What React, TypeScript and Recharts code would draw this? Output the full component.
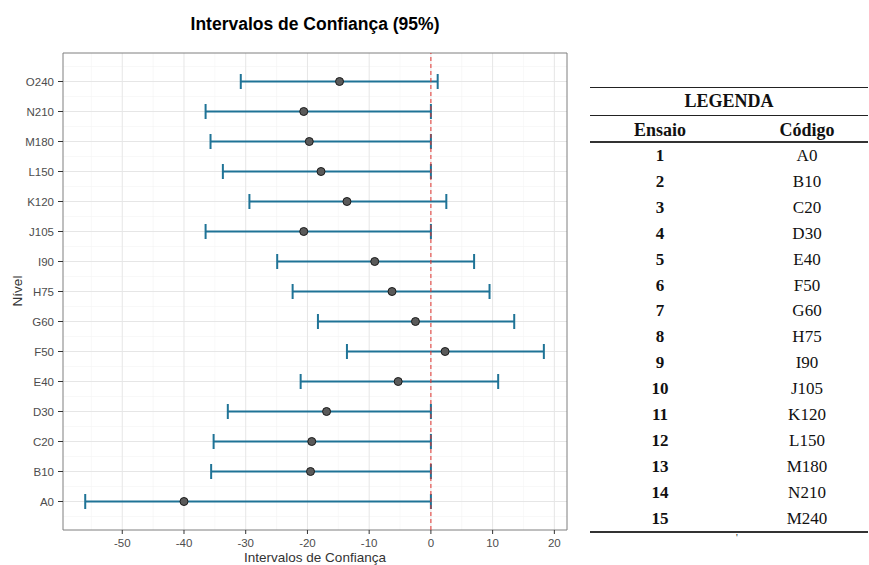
import React from "react";
import {
  ScatterChart,
  Scatter,
  XAxis,
  YAxis,
  CartesianGrid,
  ErrorBar,
  ReferenceLine,
  ReferenceArea,
} from "recharts";

const niveis = ["A0", "B10", "C20", "D30", "E40", "F50", "G60", "H75", "I90", "J105", "K120", "L150", "M180", "N210", "O240"];
const estimativas = [-40.0, -19.5, -19.3, -16.9, -5.3, 2.3, -2.5, -6.3, -9.1, -20.6, -13.6, -17.8, -19.7, -20.6, -14.8];
const limInf = [-56.0, -35.6, -35.2, -32.9, -21.1, -13.6, -18.3, -22.4, -24.9, -36.5, -29.4, -33.7, -35.7, -36.5, -30.8];
const limSup = [0, 0, 0, 0, 10.9, 18.3, 13.5, 9.5, 7.0, 0, 2.5, 0, 0, 0, 1.1];

const xTicks = [-50, -40, -30, -20, -10, 0, 10, 20];
const xMinor = [-55, -45, -35, -25, -15, -5, 5, 15];
const yTicks = [0, 1, 2, 3, 4, 5, 6, 7, 8, 9, 10, 11, 12, 13, 14];
const yMinor = [-0.5, 0.5, 1.5, 2.5, 3.5, 4.5, 5.5, 6.5, 7.5, 8.5, 9.5, 10.5, 11.5, 12.5, 13.5, 14.5];

const ensaios = [1, 2, 3, 4, 5, 6, 7, 8, 9, 10, 11, 12, 13, 14, 15];
const codigos = ["A0", "B10", "C20", "D30", "E40", "F50", "G60", "H75", "I90", "J105", "K120", "L150", "M180", "N210", "M240"];

const X_DOMAIN: [number, number] = [-59.6, 22.05];
const Y_DOMAIN: [number, number] = [-0.95, 14.95];
const BAR = "#1f7396";

const data = niveis.map((n, i) => ({
  nivel: n,
  y: i,
  x: estimativas[i],
  err: [estimativas[i] - limInf[i], limSup[i] - estimativas[i]],
}));

const Ponto = (props: any) => (
  <circle cx={props.cx} cy={props.cy} r={4} fill="#5a5a5a" stroke="#1a1a1a" strokeWidth={1} />
);

const serif = "'Liberation Serif', 'Times New Roman', serif";

function Legenda() {
  return (
    <div style={{ position: "absolute", left: 590, top: 0, width: 278, fontFamily: serif, color: "#111", lineHeight: "20px" }}>
      <div style={{ position: "absolute", top: 87, left: 0, width: 278, borderTop: "1.5px solid #222" }} />
      <div style={{ position: "absolute", top: 91, left: 0, width: 278, textAlign: "center", fontWeight: "bold", fontSize: 18 }}>
        LEGENDA
      </div>
      <div style={{ position: "absolute", top: 115, left: 0, width: 278, borderTop: "1px solid #222" }} />
      <div style={{ position: "absolute", top: 120, left: 20, width: 100, textAlign: "center", fontWeight: "bold", fontSize: 18 }}>
        Ensaio
      </div>
      <div style={{ position: "absolute", top: 120, left: 167, width: 100, textAlign: "center", fontWeight: "bold", fontSize: 18 }}>
        Código
      </div>
      <div style={{ position: "absolute", top: 141, left: 0, width: 278, borderTop: "2px solid #333" }} />
      {ensaios.map((e, i) => (
        <React.Fragment key={e}>
          <div style={{ position: "absolute", top: 146 + i * 25.9, left: 20, width: 100, textAlign: "center", fontWeight: "bold", fontSize: 17 }}>
            {e}
          </div>
          <div style={{ position: "absolute", top: 146 + i * 25.9, left: 167, width: 100, textAlign: "center", fontSize: 17 }}>
            {codigos[i]}
          </div>
        </React.Fragment>
      ))}
      <div style={{ position: "absolute", top: 531, left: 0, width: 278, borderTop: "2px solid #333" }} />
      <div style={{ position: "absolute", top: 528, left: 146, fontSize: 10 }}>'</div>
    </div>
  );
}

export default function App() {
  return (
    <div
      style={{
        position: "fixed",
        left: 0,
        top: 0,
        width: 869,
        height: 565,
        background: "#fff",
        fontFamily: "'Liberation Sans', Arial, sans-serif",
        overflow: "hidden",
      }}
    >
      <div style={{ position: "absolute", left: 0, top: 0 }}>
        <ScatterChart width={580} height={565} margin={{ top: 53, right: 13, bottom: 0, left: 0 }}>
          <CartesianGrid stroke="#f4f4f4" strokeWidth={0.6} verticalValues={xMinor} horizontalValues={yMinor} />
          <CartesianGrid stroke="#e6e6e6" strokeWidth={1} verticalValues={xTicks} horizontalValues={yTicks} />
          <XAxis
            type="number"
            dataKey="x"
            domain={X_DOMAIN}
            ticks={xTicks}
            allowDataOverflow
            height={35}
            tickSize={4}
            tickMargin={5}
            axisLine={false}
            tickLine={{ stroke: "#333" }}
            tick={{ fill: "#4d4d4d", fontSize: 11.5 }}
          />
          <YAxis
            type="number"
            dataKey="y"
            domain={Y_DOMAIN}
            ticks={yTicks}
            allowDataOverflow
            width={63}
            tickSize={5}
            tickMargin={4}
            axisLine={false}
            tickLine={{ stroke: "#333" }}
            tick={{ fill: "#4d4d4d", fontSize: 11.5 }}
            tickFormatter={(v: number) => niveis[v] ?? ""}
          />
          <ReferenceArea
            x1={X_DOMAIN[0]}
            x2={X_DOMAIN[1]}
            y1={Y_DOMAIN[0]}
            y2={Y_DOMAIN[1]}
            fill="none"
            stroke="#7f7f7f"
            strokeWidth={1}
          />
          <Scatter data={data} shape={Ponto} isAnimationActive={false}>
            <ErrorBar dataKey="err" direction="x" width={7.5} stroke={BAR} strokeWidth={2} />
          </Scatter>
          <ReferenceLine x={0} stroke="#e3342f" strokeDasharray="4 3" strokeWidth={1} />
        </ScatterChart>
      </div>
      <div style={{ position: "absolute", left: 63, width: 504, top: 14, textAlign: "center", fontWeight: "bold", fontSize: 17.5, lineHeight: "20px", color: "#000" }}>
        Intervalos de Confiança (95%)
      </div>
      <div style={{ position: "absolute", left: 63, width: 504, top: 550, textAlign: "center", fontSize: 13.5, lineHeight: "16px", color: "#333" }}>
        Intervalos de Confiança
      </div>
      <div
        style={{
          position: "absolute",
          left: 17,
          top: 291,
          transform: "translate(-50%, -50%) rotate(-90deg)",
          fontSize: 13.5,
          color: "#333",
          whiteSpace: "nowrap",
        }}
      >
        Nível
      </div>
      <Legenda />
    </div>
  );
}
